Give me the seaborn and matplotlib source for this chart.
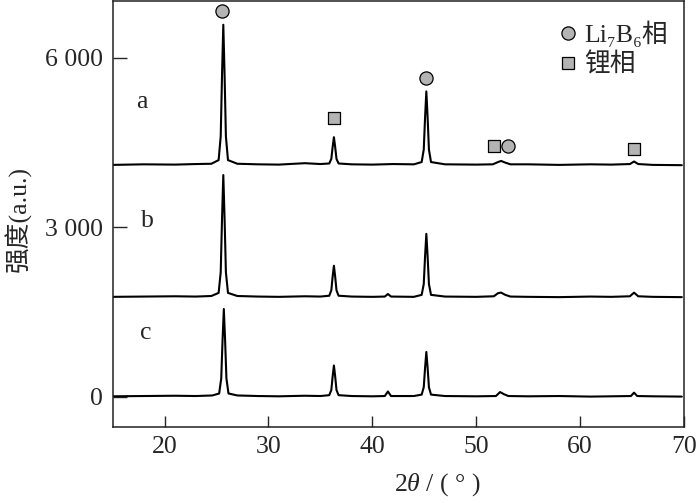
import pandas as pd
import matplotlib
matplotlib.use("Agg")
import matplotlib.pyplot as plt
from matplotlib.lines import Line2D
import seaborn as sns

# --- XRD patterns (2theta in deg, intensity in counts) ---
tth_a = [15.0, 18.0, 21.0, 23.0, 24.5, 25.2, 25.4, 25.53, 25.65, 25.77, 25.9, 26.1,
         27.0, 29.0, 31.0, 33.5, 35.0, 35.85, 36.05, 36.18, 36.3, 36.42, 36.55, 36.75,
         38.0, 40.0, 42.0, 44.0, 44.75, 44.95, 45.08, 45.2, 45.32, 45.45, 45.65,
         47.0, 50.0, 51.6, 52.1, 52.4, 52.8, 53.3, 55.0, 58.0, 61.0, 63.0,
         64.8, 65.2, 65.6, 67.0, 69.8]
int_a = [4100, 4110, 4105, 4115, 4120, 4185, 4605, 5715, 6580, 5715, 4605, 4185,
         4120, 4110, 4105, 4130, 4115, 4125, 4205, 4420, 4590, 4420, 4205, 4125,
         4110, 4105, 4115, 4110, 4150, 4370, 4950, 5400, 4950, 4370, 4150,
         4110, 4105, 4110, 4150, 4170, 4140, 4110, 4110, 4100, 4110, 4105,
         4115, 4160, 4115, 4100, 4095]

tth_b = [15.0, 18.0, 21.0, 23.0, 24.5, 25.2, 25.4, 25.53, 25.65, 25.77, 25.9, 26.1,
         27.0, 29.0, 31.0, 33.5, 35.0, 35.85, 36.05, 36.18, 36.3, 36.42, 36.55, 36.75,
         38.0, 40.0, 41.2, 41.5, 41.8, 44.0, 44.75, 44.95, 45.08, 45.2, 45.32, 45.45, 45.65,
         47.0, 50.0, 51.7, 52.1, 52.4, 52.8, 53.3, 55.0, 58.0, 61.0, 63.0,
         64.8, 65.2, 65.6, 67.0, 69.8]
int_b = [1765, 1770, 1775, 1770, 1780, 1835, 2200, 3170, 3920, 3170, 2200, 1835,
         1780, 1770, 1765, 1775, 1770, 1785, 1880, 2125, 2315, 2125, 1880, 1785,
         1770, 1765, 1770, 1815, 1770, 1765, 1800, 1990, 2490, 2880, 2490, 1990, 1800,
         1770, 1765, 1775, 1830, 1840, 1800, 1770, 1765, 1760, 1770, 1765,
         1775, 1840, 1775, 1765, 1760]

tth_c = [15.0, 18.0, 21.0, 23.0, 24.6, 25.25, 25.45, 25.58, 25.7, 25.82, 25.95, 26.15,
         27.0, 29.0, 31.0, 33.5, 35.0, 35.85, 36.05, 36.18, 36.3, 36.42, 36.55, 36.75,
         38.0, 40.0, 41.2, 41.5, 41.8, 44.0, 44.75, 44.95, 45.08, 45.2, 45.32, 45.45, 45.65,
         47.0, 50.0, 51.9, 52.3, 52.7, 53.1, 55.0, 58.0, 61.0, 63.0,
         64.9, 65.2, 65.5, 67.0, 69.8]
int_c = [5, 10, 15, 10, 20, 55, 320, 1010, 1550, 1010, 320, 55,
         20, 10, 5, 15, 10, 25, 115, 360, 550, 360, 115, 25,
         10, 5, 10, 90, 10, 10, 35, 165, 515, 790, 515, 165, 35,
         10, 5, 10, 80, 40, 10, 5, 10, 0, 5,
         10, 70, 10, 5, 0]

# phase markers above the peaks of pattern a
li7b6_x = [25.5, 45.15, 53.1]
li7b6_y = [6830, 5630, 4430]
li_x = [36.33, 51.7, 65.2]
li_y = [4925, 4430, 4375]

sample_labels = ["a", "b", "c"]
label_x = [17.8, 18.3, 18.2]
label_y = [5220, 3100, 1130]

y_ticks = [0, 3000, 6000]
y_ticklabels = ["0", "3 000", "6 000"]
x_ticks = [20, 30, 40, 50, 60, 70]

FONT = ["Liberation Serif", "Noto Sans CJK SC", "DejaVu Serif"]
FS = 18.5
MARKER_FACE = "#b4b4b4"

sns.set_style("ticks")
plt.rcParams["font.family"] = FONT
plt.rcParams["mathtext.fontset"] = "custom"
plt.rcParams["mathtext.rm"] = "Liberation Serif"
plt.rcParams["mathtext.it"] = "Liberation Serif:italic"


def generate_plot():
    frames = []
    for name, xs, ys in [("a", tth_a, int_a), ("b", tth_b, int_b), ("c", tth_c, int_c)]:
        frames.append(pd.DataFrame({"tth": xs, "intensity": ys, "pattern": name}))
    df = pd.concat(frames, ignore_index=True)

    fig = plt.figure(figsize=(7.0, 5.03), dpi=100)
    ax = fig.add_axes([0.161, 0.152, 0.816, 0.846])

    sns.lineplot(data=df, x="tth", y="intensity", units="pattern", estimator=None,
                 color="black", lw=1.5, ax=ax, legend=False)

    sns.scatterplot(x=li7b6_x, y=li7b6_y, marker="o", s=90, color=MARKER_FACE,
                    edgecolor="black", linewidth=0.9, ax=ax, zorder=5)
    sns.scatterplot(x=li_x, y=li_y, marker="s", s=64, color=MARKER_FACE,
                    edgecolor="black", linewidth=0.9, ax=ax, zorder=5)

    for lab, lx, ly in zip(sample_labels, label_x, label_y):
        ax.text(lx, ly, lab, fontsize=FS, ha="center", va="center")

    ax.set_xlim(15, 70)
    ax.set_ylim(-530, 7000)
    ax.set_xticks(x_ticks)
    ax.set_yticks(y_ticks)
    ax.set_yticklabels(y_ticklabels)
    ax.tick_params(direction="in", length=8, width=1.0, labelsize=FS, pad=7)
    ax.tick_params(axis="y", length=10)
    for sp in ax.spines.values():
        sp.set_visible(True)
        sp.set_linewidth(1.1)
        sp.set_color("#222222")

    ax.set_xlabel(r"2$\it{\theta}$ / ( ° )", fontsize=FS)
    ax.xaxis.set_label_coords(0.568, -0.105)
    ax.set_ylabel("强度(a.u.)", fontsize=FS)
    ax.yaxis.set_label_coords(-0.141, 0.488)

    handles = [
        Line2D([], [], ls="none", marker="o", ms=9.5, mfc=MARKER_FACE, mec="black", mew=0.9),
        Line2D([], [], ls="none", marker="s", ms=8, mfc=MARKER_FACE, mec="black", mew=0.9),
    ]
    ax.legend(handles, ["Li₇B₆相", "锂相"], loc="upper right", frameon=False,
              prop={"family": FONT, "size": FS}, handletextpad=0.15, handlelength=1.0,
              labelspacing=0.22, borderaxespad=0.45, borderpad=0.3,
              bbox_to_anchor=(1.006, 1.0))

    fig.savefig("out.png", dpi=100)
    plt.close(fig)


if __name__ == "__main__":
    generate_plot()
